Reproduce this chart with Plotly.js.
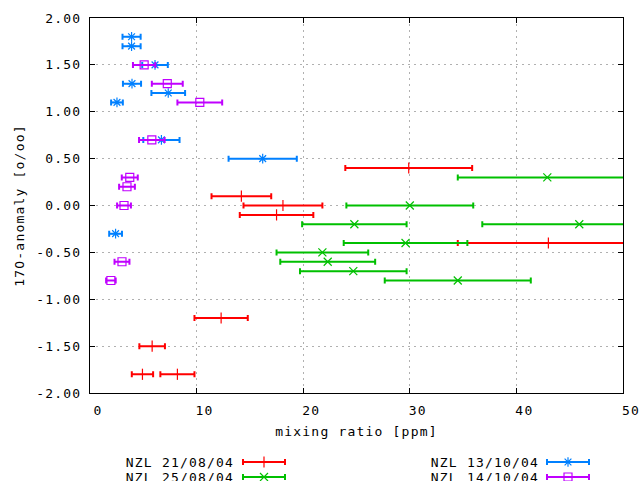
<!DOCTYPE html>
<html>
<head>
<meta charset="utf-8">
<script src="https://cdn.plot.ly/plotly-3.0.1.min.js"></script>
<style>
html,body{margin:0;padding:0;background:#fff;}
#chart{width:639px;height:481px;}
#chart text{letter-spacing:1.2px;}
</style>
</head>
<body>
<div id="chart"></div>
<script>
// ---- data ----
const seriesNames = ["NZL 21/08/04", "NZL 25/08/04", "NZL 13/10/04", "NZL 14/10/04"];

const redX   = [29.9, 14.2, 18.1, 17.5, 43.0, 12.3, 5.83, 4.92, 8.2];
const redY   = [0.40, 0.10, 0.00, -0.10, -0.40, -1.20, -1.50, -1.80, -1.80];
const redErr = [5.95, 2.8, 3.7, 3.45, 8.5, 2.5, 1.2, 1.0, 1.6];

const greenX   = [42.9, 30.0, 24.8, 45.9, 29.6, 21.8, 22.3, 24.7, 34.5];
const greenY   = [0.30, 0.00, -0.20, -0.20, -0.40, -0.50, -0.60, -0.70, -0.80];
const greenErr = [8.4, 5.95, 4.9, 9.1, 5.8, 4.3, 4.45, 5.0, 6.85];

const blueX   = [3.9, 3.9, 6.1, 3.94, 7.34, 2.53, 6.7, 16.2, 2.4];
const blueY   = [1.80, 1.70, 1.50, 1.30, 1.20, 1.10, 0.70, 0.50, -0.30];
const blueErr = [0.85, 0.85, 1.2, 0.85, 1.58, 0.55, 1.7, 3.2, 0.6];

const magX   = [5.08, 7.25, 10.3, 5.8, 3.73, 3.47, 3.19, 3.0, 1.96];
const magY   = [1.50, 1.30, 1.10, 0.70, 0.30, 0.20, 0.00, -0.60, -0.80];
const magErr = [1.05, 1.45, 2.1, 1.2, 0.75, 0.74, 0.65, 0.7, 0.45];

const xTicks = [0, 10, 20, 30, 40, 50];
const yTicks = [-2, -1.5, -1, -0.5, 0, 0.5, 1, 1.5, 2];

// ---- styling ----
const colors  = ["#ff0000", "#00c000", "#0080ff", "#c000ff"];
const symbols = ["line-ns", "x-thin", "asterisk", "square-open"];
const FONT = "DejaVu Sans Mono, Liberation Mono, monospace";

const data = [[redX, redY, redErr], [greenX, greenY, greenErr], [blueX, blueY, blueErr], [magX, magY, magErr]];

const traces = data.map((d, i) => ({
  type: "scatter", mode: "markers",
  x: d[0], y: d[1],
  error_x: {type: "data", array: d[2], symmetric: true, color: colors[i], thickness: 2, width: 3},
  marker: {symbol: symbols[i], size: 8, color: colors[i], line: {color: colors[i], width: 1.2}},
  name: seriesNames[i], showlegend: false, xaxis: "x", yaxis: "y"
}));

// ---- custom legend (text left of sample, like the original) ----
const legCol = [[229, 264], [534, 568]];   // [text right edge, sample centre] in legend-axis px units
const legRow = [462, 477];
const legendTraces = [];
const annotations = [];
seriesNames.forEach((nm, i) => {
  const col = Math.floor(i / 2), row = i % 2;
  legendTraces.push({
    type: "scatter", mode: "markers", x: [legCol[col][1]], y: [legRow[row]],
    error_x: {type: "data", array: [21], symmetric: true, color: colors[i], thickness: 2, width: 3},
    marker: {symbol: symbols[i], size: 8, color: colors[i], line: {color: colors[i], width: 1.2}},
    xaxis: "x2", yaxis: "y2", showlegend: false, hoverinfo: "skip", cliponaxis: false
  });
  annotations.push({
    xref: "x2", yref: "y2", x: legCol[col][0], y: legRow[row],
    text: nm, showarrow: false, xanchor: "right", yanchor: "middle",
    font: {family: FONT, size: 13, color: "#000"}
  });
});

const axisCommon = {
  showgrid: true, gridcolor: "#b0b0b0", griddash: "2px,4px", gridwidth: 1,
  showline: true, mirror: "ticks", linecolor: "#000", linewidth: 1,
  ticks: "inside", ticklen: 5, tickcolor: "#000",
  zeroline: false, tickfont: {family: FONT, size: 13, color: "#000"}
};

const layout = {
  width: 639, height: 481,
  margin: {l: 90, r: 16, t: 18, b: 0},
  paper_bgcolor: "#fff", plot_bgcolor: "#fff",
  showlegend: false,
  xaxis: Object.assign({}, axisCommon, {
    range: [0, 50], tickvals: xTicks, ticktext: xTicks.map(String), anchor: "y",
    ticklabelstandoff: 5, ticklabelshift: 8,
    title: {text: "mixing ratio [ppm]", font: {family: FONT, size: 13, color: "#000"}, standoff: 10}
  }),
  yaxis: Object.assign({}, axisCommon, {
    range: [-2, 2], domain: [0.19, 1], tickvals: yTicks, ticktext: yTicks.map(v => v.toFixed(2)), anchor: "x",
    ticklabelstandoff: 5,
    title: {text: "17O-anomaly [o/oo]", font: {family: FONT, size: 13, color: "#000"}, standoff: 14}
  }),
  xaxis2: {domain: [0, 1], range: [90, 623], visible: false, fixedrange: true, anchor: "y2"},
  yaxis2: {domain: [0, 0.12], range: [481, 481 - 0.12 * 463], visible: false, fixedrange: true, anchor: "x2"},
  annotations: annotations
};

Plotly.newPlot("chart", traces.concat(legendTraces), layout, {staticPlot: true, displayModeBar: false});
</script>
</body>
</html>
